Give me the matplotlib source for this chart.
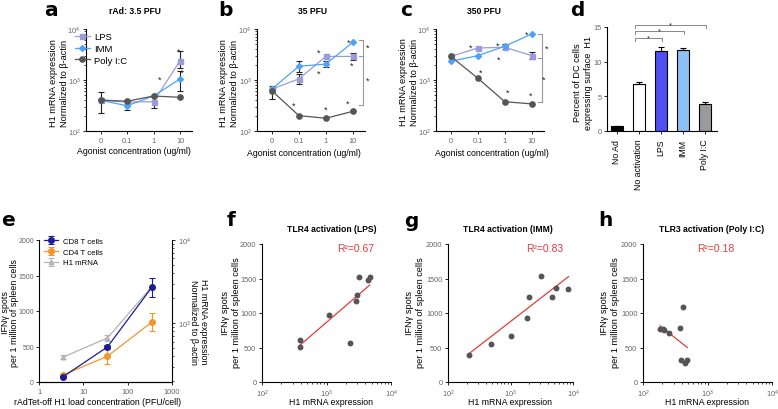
import numpy as np
import matplotlib
matplotlib.use('Agg')
import matplotlib.pyplot as plt
from matplotlib.ticker import LogLocator, NullFormatter, FixedLocator

plt.rcParams['font.family'] = ['Liberation Sans', 'DejaVu Sans']
plt.rcParams['axes.linewidth'] = 0.8

# ---------------- data ----------------
agonist_labels = ["0", "0.1", "1", "10"]
series_names = ["LPS", "IMM", "Poly I:C"]

# panel a (3.5 PFU)
a_lps = [400, 370, 375, 2390]
a_lps_lo = [400, 370, 283, 1700]
a_lps_hi = [400, 370, 492, 3640]
a_imm = [400, 313, 485, 1050]
a_imm_lo = [400, 262, 485, 617]
a_imm_hi = [400, 405, 485, 1520]
a_poly = [405, 383, 485, 458]
a_poly_lo = [222, 383, 485, 458]
a_poly_hi = [575, 383, 485, 458]

# panel b (35 PFU)
b_lps = [665, 1050, 2900, 2900]
b_lps_lo = [665, 834, 2900, 2460]
b_lps_hi = [665, 1312, 2900, 3330]
b_imm = [665, 1860, 2050, 5500]
b_imm_lo = [665, 1450, 1770, 5500]
b_imm_hi = [665, 2330, 2330, 5500]
b_poly = [616, 200, 178, 243]
b_poly_lo = [424, 200, 178, 243]
b_poly_hi = [775, 200, 178, 243]

# panel c (350 PFU)
c_lps = [2900, 4240, 4380, 3000]
c_lps_lo = [2900, 4240, 4380, 2580]
c_lps_hi = [2900, 4240, 4380, 3480]
c_imm = [2330, 3000, 4600, 8000]
c_imm_lo = [2330, 3000, 4060, 8000]
c_imm_hi = [2330, 3000, 5090, 8000]
c_poly = [2900, 1080, 375, 340]
c_poly_lo = c_poly
c_poly_hi = c_poly

# significance stars (x category position, y value)
a_stars = [(2.22, 1040), (2.96, 3700), (3.06, 1450)]
b_stars = [(0.82, 324), (1.72, 3560), (1.72, 1370), (1.98, 270),
           (2.85, 5590), (2.96, 1960), (2.81, 354), (3.55, 4480), (3.55, 970)]
b_bracket = (3.38, [6000, 2950, 330])
c_stars = [(0.74, 4360), (1.74, 4900), (1.78, 2580), (1.11, 1450),
           (2.11, 574), (2.96, 493), (2.81, 7970), (3.55, 4240), (3.45, 1040)]
c_bracket = (3.38, [7950, 2670, 375])

# panel d
d_categories = ["No Ad", "No activation", "LPS", "IMM", "Poly I:C"]
d_values = [0.66, 6.82, 11.49, 11.63, 3.94]
d_err = [0.12, 0.18, 0.6, 0.35, 0.22]
d_colors = ["#000000", "#ffffff", "#4f4ff2", "#8fbff7", "#9a9a9e"]
d_brackets = [(1, 2, 13.4), (1, 3, 14.4), (1, 4, 15.3)]

# panel e
e_pfu = [3.5, 35, 350]
e_cd8 = [75, 494, 1333]
e_cd8_err = [10, 25, 130]
e_cd4 = [99, 363, 843]
e_cd4_err = [10, 113, 123]
e_h1 = [391, 667, 2750]
e_h1_lo = [370, 608, 2750]
e_h1_hi = [412, 730, 2750]

# panels f, g, h  (x: H1 mRNA expression, y: IFNg spots)
f_x = [383, 383, 1080, 2340, 2860, 2970, 3230, 4390, 4670]
f_y = [606, 514, 974, 572, 1168, 1260, 1527, 1483, 1527]
f_fit_x = [383, 4670]
f_fit_y = [529, 1405]
g_x = [218, 487, 1000, 1846, 2010, 3055, 4540, 5370, 8470]
g_y = [388, 548, 660, 926, 1236, 1541, 1236, 1362, 1348]
g_fit_x = [218, 8470]
g_fit_y = [413, 1527]
h_x = [184, 202, 215, 255, 380, 414, 394, 446, 485]
h_y = [766, 766, 756, 708, 776, 1081, 315, 282, 315]
h_fit_x = [184, 485]
h_fit_y = [814, 500]

r2_texts = ["R²=0.67", "R²=0.83", "R²=0.18"]

# ---------------- figure ----------------
W, H = 778, 410
fig = plt.figure(figsize=(W / 100, H / 100), dpi=100)

TICK_COLOR = '#666666'
C_LPS = '#9b9bdc'
C_IMM = '#4fa3f2'
C_POLY = '#555555'
RED = '#e23b3b'


def add_ax(l, t, w, h):
    return fig.add_axes([l / W, 1 - (t + h) / H, w / W, h / H])


def style(ax, right=False):
    ax.spines['top'].set_visible(False)
    if not right:
        ax.spines['right'].set_visible(False)
    ax.tick_params(which='major', length=2.5, width=0.6, labelsize=5.3,
                   labelcolor=TICK_COLOR, pad=1.5)
    ax.tick_params(which='minor', length=1.5, width=0.5)


def ftext(x, y, s, **kw):
    return fig.text(x / W, 1 - y / H, s, **kw)


def agonist_panel(ax, data, stars, bracket=None, legend=False):
    xs = np.arange(len(agonist_labels))
    styles = [(C_LPS, 's', 3.6), (C_IMM, 'D', 3.0), (C_POLY, 'o', 3.8)]
    handles = []
    for (vals, lo, hi), (col, mk, ms), name in zip(data, styles, series_names):
        vals = np.array(vals, float)
        lo = np.array(lo, float)
        hi = np.array(hi, float)
        m = hi > lo
        if m.any():
            ax.errorbar(xs[m], vals[m], yerr=[vals[m] - lo[m], hi[m] - vals[m]],
                        fmt='none', ecolor='#222222', elinewidth=0.8,
                        capsize=2.0, capthick=0.8, zorder=3)
        h, = ax.plot(xs, vals, color=col, marker=mk, ms=ms, lw=0.9,
                     label=name, zorder=4)
        handles.append(h)
    ax.set_yscale('log')
    ax.set_ylim(100, 1e4)
    ax.set_xlim(-0.55, 3.45)
    ax.set_xticks(xs)
    ax.set_xticklabels(agonist_labels)
    ax.yaxis.set_major_locator(LogLocator(base=10, numticks=5))
    ax.yaxis.set_minor_locator(LogLocator(base=10, subs=np.arange(2, 10), numticks=20))
    ax.yaxis.set_minor_formatter(NullFormatter())
    style(ax)
    for sx, sy in stars:
        ax.text(sx, sy, '*', fontsize=6.5, ha='center', va='center', color='#222222')
    if bracket is not None:
        bx, ys = bracket
        ax.plot([bx, bx], [ys[0], ys[-1]], color='#999999', lw=0.8, clip_on=False)
        for yy in ys:
            ax.plot([bx - 0.14, bx], [yy, yy], color='#999999', lw=0.8, clip_on=False)
    if legend:
        ax.legend(handles=handles, loc='upper left', bbox_to_anchor=(-0.1, 0.97),
                  frameon=False, fontsize=6.8, handlelength=1.5, handletextpad=0.5,
                  labelspacing=0.3, borderaxespad=0, borderpad=0)


YLAB_H1 = "H1 mRNA expression\nNormalized to β-actin"
XLAB_AG = "Agonist concentration (ug/ml)"

# panel a
ax_a = add_ax(86, 30, 106, 102)
agonist_panel(ax_a, [(a_lps, a_lps_lo, a_lps_hi), (a_imm, a_imm_lo, a_imm_hi),
                     (a_poly, a_poly_lo, a_poly_hi)], a_stars, legend=True)
# panel b
ax_b = add_ax(257, 30, 108, 102)
agonist_panel(ax_b, [(b_lps, b_lps_lo, b_lps_hi), (b_imm, b_imm_lo, b_imm_hi),
                     (b_poly, b_poly_lo, b_poly_hi)], b_stars, bracket=b_bracket)
# panel c
ax_c = add_ax(436, 30, 108, 102)
agonist_panel(ax_c, [(c_lps, c_lps_lo, c_lps_hi), (c_imm, c_imm_lo, c_imm_hi),
                     (c_poly, c_poly_lo, c_poly_hi)], c_stars, bracket=c_bracket)

lab_kw = dict(fontsize=6.3, ha='center', va='center', linespacing=1.15)
ylab_kw = dict(fontsize=6.6, ha='center', va='center', linespacing=1.15)
for (ylx, yly), (xlx, xly) in [((59, 83), (134, 152)), ((229, 83), (304, 153)),
                                ((409, 82), (492, 153))]:
    ftext(ylx, yly, YLAB_H1, rotation=90, **ylab_kw)
    ftext(xlx, xly, XLAB_AG, **lab_kw)

title_kw = dict(fontsize=6.2, fontweight='bold', ha='center', va='center')
ftext(135, 12, "rAd: 3.5 PFU", **title_kw)
ftext(312, 12, "35 PFU", **title_kw)
ftext(484, 12, "350 PFU", **title_kw)

# panel d
ax_d = add_ax(607, 28, 110, 104)
xd = np.arange(len(d_categories))
ax_d.bar(xd, d_values, width=0.52, color=d_colors, edgecolor='black', linewidth=0.8,
         yerr=[np.zeros(len(d_err)), d_err], error_kw=dict(ecolor='black', elinewidth=0.8,
                                                          capsize=2.0, capthick=0.8))
ax_d.set_xlim(-0.45, 4.55)
ax_d.set_ylim(0, 15)
ax_d.set_yticks([0, 5, 10, 15])
ax_d.set_xticks(xd)
ax_d.set_xticklabels(d_categories, rotation=90)
style(ax_d)
ax_d.tick_params(axis='x', labelcolor='black', labelsize=6.3, pad=3)
for i0, i1, yb in d_brackets:
    x0, x1 = i0 - 0.2, i1 + 0.05
    ax_d.plot([x0, x0, x1, x1], [yb - 0.4, yb, yb, yb - 0.4], color='#888888', lw=0.7,
              clip_on=False)
    ax_d.text((x0 + x1) / 2, yb + 0.05, '*', fontsize=5.5, ha='center', va='center',
              color='#333333')
ftext(583, 83, "Percent of DC cells\nexpressing surface  H1", rotation=90, **ylab_kw)

# panel e
ax_e = add_ax(39, 241, 133, 142)
h_cd8 = ax_e.errorbar(e_pfu, e_cd8, yerr=e_cd8_err, color='#1c1c96', marker='o', ms=4.0,
                      lw=0.9, elinewidth=0.8, capsize=2.0, capthick=0.8,
                      label='CD8 T cells', zorder=4)
h_cd4 = ax_e.errorbar(e_pfu, e_cd4, yerr=e_cd4_err, color='#f3952b', marker='o', ms=4.0,
                      lw=0.9, elinewidth=0.8, capsize=2.0, capthick=0.8,
                      label='CD4 T cells', zorder=3)
ax_e.set_xscale('log')
ax_e.set_xlim(1, 1000)
ax_e.set_ylim(0, 2000)
ax_e.set_yticks([0, 500, 1000, 1500, 2000])
ax_e.xaxis.set_major_locator(FixedLocator([1, 10, 100, 1000]))
ax_e.set_xticklabels(["1", "10", "100", "1000"])
ax_e.xaxis.set_minor_locator(FixedLocator([]))
style(ax_e)
ax_e.tick_params(axis='y', labelsize=5.0, pad=1.2)
ax_e2 = ax_e.twinx()
e_h1a = np.array(e_h1, float)
h_h1 = ax_e2.errorbar(e_pfu, e_h1a, yerr=[e_h1a - np.array(e_h1_lo), np.array(e_h1_hi) - e_h1a],
                      color='#b4b4b4', marker='^', ms=3.2, lw=0.9, elinewidth=0.8,
                      capsize=2.0, capthick=0.8, label='H1 mRNA', zorder=2)
ax_e2.set_yscale('log')
ax_e2.set_ylim(197, 1e4)
ax_e2.yaxis.set_major_locator(LogLocator(base=10, numticks=5))
ax_e2.yaxis.set_minor_locator(LogLocator(base=10, subs=np.arange(2, 10), numticks=20))
ax_e2.yaxis.set_minor_formatter(NullFormatter())
ax_e2.spines['top'].set_visible(False)
ax_e2.spines['left'].set_visible(False)
ax_e2.tick_params(which='major', length=2.5, width=0.6, labelsize=5.3,
                  labelcolor=TICK_COLOR, pad=1.5)
ax_e2.tick_params(which='minor', length=1.5, width=0.5)
ax_e.set_zorder(ax_e2.get_zorder() + 1)
ax_e.patch.set_visible(False)
ax_e.legend(handles=[h_cd8, h_cd4, h_h1], loc='upper left', bbox_to_anchor=(0.04, 1.02),
            frameon=False, fontsize=5.6, handlelength=1.8, handletextpad=0.6,
            labelspacing=0.45, borderaxespad=0, borderpad=0)
YLAB_IFN = "IFNγ spots\nper 1 million of spleen cells"
one_kw = dict(fontsize=6.4, ha='center', va='center')
ftext(5.5, 313, "IFNγ spots", rotation=90, **one_kw)
ftext(14.5, 313, "per 1 million of spleen cells", rotation=90, **one_kw)
ftext(203, 322, "H1 mRNA expression", rotation=270, **one_kw)
ftext(193.5, 322, "Normalized to β-actin", rotation=270, **one_kw)
ftext(98, 403, "rAdTet-off H1 load concentration (PFU/cell)", **lab_kw)

# panels f, g, h
scatter_sets = [
    (262, 129, f_x, f_y, f_fit_x, f_fit_y, 231, 331, "TLR4 activation (LPS)", 332, 356),
    (448, 125, g_x, g_y, g_fit_x, g_fit_y, 415, 510, "TLR4 activation (IMM)", 508, 545),
    (643, 129, h_x, h_y, h_fit_x, h_fit_y, 610, 707, "TLR3 activation (Poly I:C)", 712, 716),
]
for (left, wid, sx, sy, fx, fy, ylx, xlx, title, tx, r2x), r2 in zip(scatter_sets, r2_texts):
    ax = add_ax(left, 245, wid, 138)
    ax.plot(fx, fy, color=RED, lw=0.9, zorder=2)
    ax.scatter(sx, sy, s=18, color='#555555', zorder=3, linewidths=0)
    ax.set_xscale('log')
    ax.set_xlim(100, 1e4)
    ax.set_ylim(0, 2000)
    ax.set_yticks([0, 500, 1000, 1500, 2000])
    ax.xaxis.set_major_locator(LogLocator(base=10, numticks=5))
    ax.xaxis.set_minor_locator(LogLocator(base=10, subs=np.arange(2, 10), numticks=20))
    ax.xaxis.set_minor_formatter(NullFormatter())
    style(ax)
    ftext(ylx, 313, YLAB_IFN, rotation=90, **ylab_kw)
    ftext(xlx, 403, "H1 mRNA expression", **lab_kw)
    ftext(tx, 229, title, **title_kw)
    ftext(r2x, 249, r2, fontsize=7.5, color=RED, ha='center', va='center')

# panel letters
letter_kw = dict(fontsize=14.5, fontweight='bold', ha='center', va='center',
                 family='DejaVu Sans')
for s, x, y in [("a", 51, 10), ("b", 226, 10), ("c", 406, 10), ("d", 577, 10),
                ("e", 8, 221), ("f", 231, 221), ("g", 411, 222), ("h", 605, 221)]:
    ftext(x, y, s, **letter_kw)

fig.savefig('out.png', dpi=100)
